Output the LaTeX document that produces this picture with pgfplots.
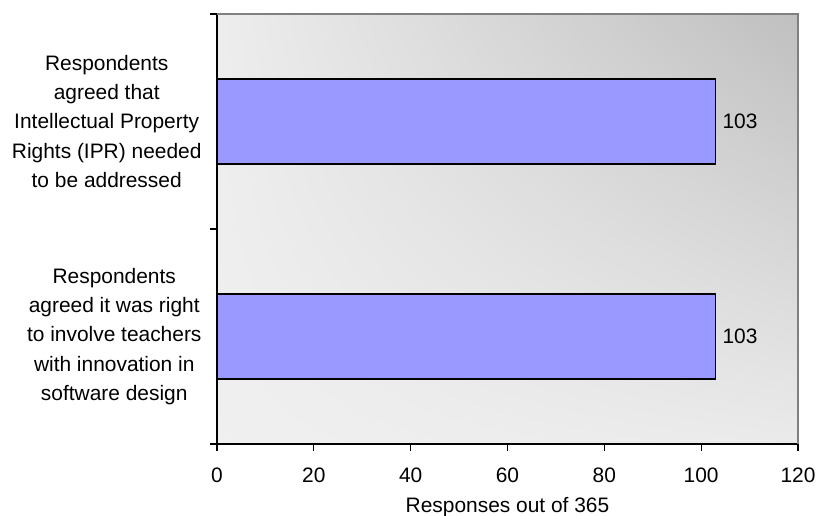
\documentclass[border=0pt]{standalone}
\usepackage{fontspec}
\setmainfont{Liberation Sans}
\usepackage{pgfplots}
\pgfplotsset{compat=1.18}
\usetikzlibrary{shadings}

\definecolor{barfill}{HTML}{9999FF}
\definecolor{frame}{HTML}{808080}

\begin{document}
\begin{tikzpicture}
\useasboundingbox (-217bp,-72bp) rectangle (603bp,444bp);
\begin{axis}[
    width=581bp, height=430bp, scale only axis,
    font=\fontsize{21}{29.5}\selectfont,
    /pgf/number format/assume math mode=true,
    xbar,
    xmin=0, xmax=120,
    xtick={0,20,40,60,80,100,120},
    ymin=-0.5, ymax=1.5,
    ytick={-0.5,0.5,1.5},
    yticklabels={},
    extra y ticks={0,1},
    extra y tick labels={{Respondents\\agreed it was right\\to involve teachers\\with innovation in\\software design},
                         {Respondents\\agreed that\\Intellectual Property\\Rights (IPR) needed\\to be addressed}},
    extra y tick style={major tick length=0pt,
        yticklabel style={align=center, xshift=-12bp}},
    axis lines*=left,
    axis line style={black, line width=1.2bp},
    tick align=outside,
    major tick length=7bp,
    tick style={black, line width=1.2bp},
    xticklabel style={yshift=-13bp},
    xlabel={Responses out of 365},
    xlabel style={yshift=-8bp},
    bar width=0.395,
    axis background/.style={shade, upper left=black!7, upper right=black!25,
        lower left=black!6, lower right=black!8},
    nodes near coords,
    every node near coord/.append style={font=\fontsize{21}{25}\selectfont, xshift=3bp},
    clip=false,
]
\addplot[fill=barfill, draw=black, line width=1.2bp] coordinates {
    (103,0)
    (103,1)
};
\draw[frame, line width=1.5bp] (rel axis cs:0,1) -- (rel axis cs:1,1) -- (rel axis cs:1,0);
\end{axis}
\end{tikzpicture}
\end{document}
